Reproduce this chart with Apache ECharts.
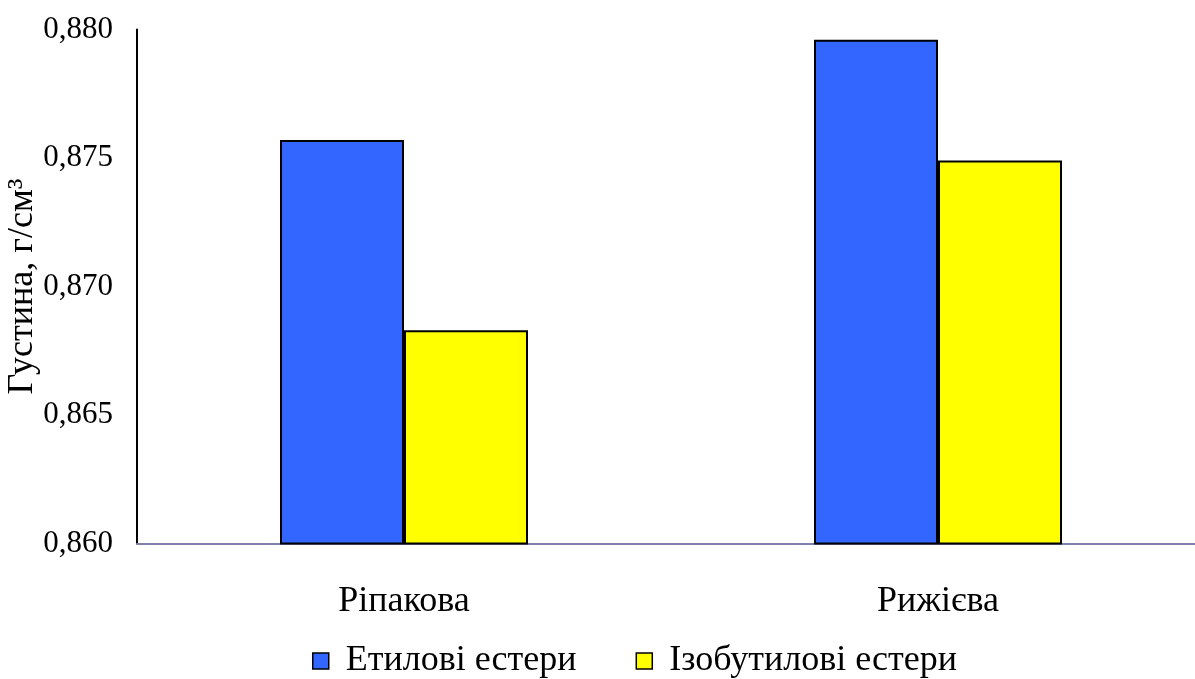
<!DOCTYPE html>
<html>
<head>
<meta charset="utf-8">
<script src="https://cdn.jsdelivr.net/npm/echarts@6/dist/echarts.min.js"></script>
<style>
  html, body { margin: 0; padding: 0; background: #fff; }
  #chart { width: 1195px; height: 679px; }
</style>
</head>
<body>
<div id="chart"></div>
<script>
// Density of ethyl and isobutyl esters by oil type
const categories = ['Ріпакова', 'Рижієва'];
const seriesNames = ['Етилові естери', 'Ізобутилові естери'];
const ethylValues = [0.8757, 0.8796];
const isobutylValues = [0.8683, 0.8749];
const yMin = 0.860, yMax = 0.880, yStep = 0.005;

const font = 'Liberation Serif, Times New Roman, serif';
const chart = echarts.init(document.getElementById('chart'), null, { renderer: 'canvas' });

chart.setOption({
  animation: false,
  grid: { left: 137, right: -10, top: 29.5, bottom: 135.5, containLabel: false, outerBoundsMode: 'none' },
  legend: {
    top: 638,
    left: 307,
    itemWidth: 16,
    itemHeight: 16,
    itemGap: 59,
    icon: 'rect',
    itemStyle: { borderColor: '#000', borderWidth: 1.5 },
    textStyle: { fontFamily: font, fontSize: 36, color: '#000', padding: [0, 0, 0, 12] },
    data: seriesNames
  },
  xAxis: {
    type: 'category',
    data: categories,
    axisLine: { lineStyle: { color: '#8080b0', width: 2 } },
    axisTick: { show: false },
    axisLabel: { fontFamily: font, fontSize: 36, color: '#000', margin: 40 }
  },
  yAxis: {
    type: 'value',
    min: yMin,
    max: yMax,
    interval: yStep,
    name: 'Густина, г/см³',
    nameLocation: 'middle',
    nameGap: 96,
    nameMoveOverlap: false,
    nameTextStyle: { fontFamily: font, fontSize: 36, color: '#000' },
    axisLine: { show: true, lineStyle: { color: '#000', width: 2 } },
    axisTick: { show: false },
    splitLine: { show: false },
    axisLabel: {
      fontFamily: font, fontSize: 31, color: '#000', margin: 24,
      formatter: v => v.toFixed(3).replace('.', ',')
    }
  },
  series: [
    {
      name: seriesNames[0],
      type: 'bar',
      data: ethylValues,
      barWidth: 124,
      barGap: '0%',
      itemStyle: { color: '#3366ff', borderColor: '#000', borderWidth: 2 }
    },
    {
      name: seriesNames[1],
      type: 'bar',
      data: isobutylValues,
      barWidth: 124,
      barGap: '0%',
      itemStyle: { color: '#ffff00', borderColor: '#000', borderWidth: 2 }
    }
  ]
});
</script>
</body>
</html>
